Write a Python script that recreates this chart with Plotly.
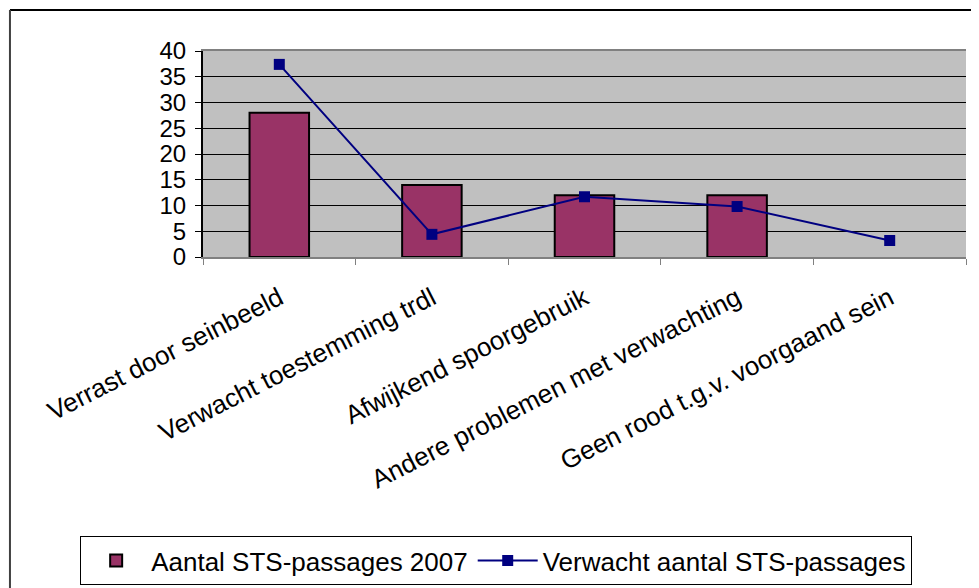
import plotly.graph_objects as go

categories = [
    "Verrast door seinbeeld",
    "Verwacht toestemming trdl",
    "Afwijkend spoorgebruik",
    "Andere problemen met verwachting",
    "Geen rood t.g.v. voorgaand sein",
]
aantal_2007 = [28, 14, 12, 12, 0]
verwacht = [37.4, 4.4, 11.7, 9.8, 3.2]

FONT = "Liberation Sans, Arial, sans-serif"

fig = go.Figure()

fig.add_trace(go.Bar(
    x=categories,
    y=aantal_2007,
    name="Aantal STS-passages 2007",
    marker=dict(
        color="#993366",
        # no outline on empty bars
        line=dict(color="black", width=[2 if v > 0 else 0 for v in aantal_2007]),
    ),
    width=0.39,
))

fig.add_trace(go.Scatter(
    x=categories,
    y=verwacht,
    name="Verwacht aantal STS-passages",
    mode="lines+markers",
    line=dict(color="#000080", width=2),
    marker=dict(symbol="square", size=11, color="#000080"),
))

# outer frame of the chart (top and left edges visible in the crop)
fig.add_shape(type="line", xref="paper", yref="paper",
              x0=-0.253, x1=1.03, y0=1.199, y1=1.199,
              line=dict(color="black", width=2))
fig.add_shape(type="line", xref="paper", yref="paper",
              x0=-0.253, x1=-0.253, y0=1.199, y1=-1.62,
              line=dict(color="#404040", width=2))

# page body has an 8px margin, so the figure is a bit smaller than the window
fig.update_layout(
    width=971,
    height=580,
    margin=dict(l=195, r=13, t=43, b=331, autoexpand=False),
    paper_bgcolor="white",
    plot_bgcolor="#C0C0C0",
    font=dict(family=FONT, color="black", size=24),
    showlegend=True,
    legend=dict(
        orientation="h",
        x=-0.161, y=-1.355,
        xanchor="left", yanchor="top",
        bordercolor="black", borderwidth=1,
        font=dict(size=26),
        traceorder="normal",
        itemwidth=60,
    ),
    xaxis=dict(
        tickangle=-27,
        tickfont=dict(size=26),
        tickson="boundaries",
        ticks="outside",
        ticklen=6,
        tickcolor="#808080",
        ticklabelstandoff=14,
        showline=True,
        linecolor="#808080",
        linewidth=2,
        mirror=True,
        showgrid=False,
        automargin=False,
    ),
    yaxis=dict(
        range=[0, 40],
        dtick=5,
        ticks="outside",
        ticklen=6,
        tickcolor="black",
        tickfont=dict(size=24),
        ticklabelstandoff=4,
        showline=True,
        linecolor="black",
        linewidth=2,
        showgrid=True,
        gridcolor="black",
        gridwidth=1,
        zeroline=False,
        automargin=False,
    ),
)

fig.write_html("out.html")
